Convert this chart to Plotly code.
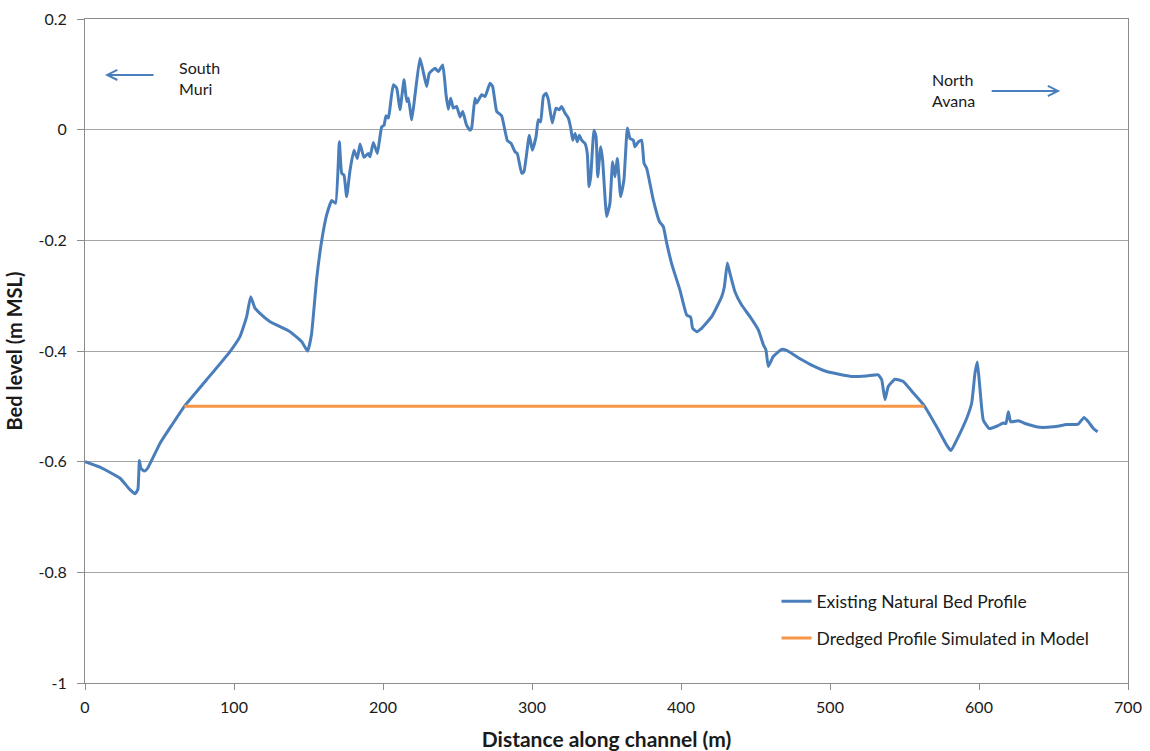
import plotly.graph_objects as go

# Surveyed bed profile along the channel (chainage in m, level in m MSL)
distance = [
    0, 10, 23.5, 30, 33.6, 35.5, 36.5, 37.5, 39.8, 42, 50.3, 58, 66.7, 81.6, 97.3,
    104, 108.5, 111.2, 114, 117.4, 124.2, 137.6, 145.4, 149.4, 152, 155.5, 158.9,
    162.2, 165.6, 168.2, 170.7, 172.3, 173.8, 175.6, 177.9, 180.5, 182.8, 184.6,
    187.2, 190.1, 191.3, 193.5, 196.2, 199.1, 200.7, 202, 203.6, 204.7, 206.9,
    209.2, 211.4, 214.1, 215.9, 217, 219.3, 221.5, 224.8, 227, 229.3, 231.1,
    234.9, 237.1, 240.1, 242.3, 243.8, 245.4, 247.2, 249.4, 251.7, 253.5, 256.1,
    258.4, 259.5, 261.7, 262.9, 266.2, 268.5, 271.8, 273.6, 276.3, 279.6, 283.5,
    286, 288.6, 290.1, 293.1, 294.6, 298.2, 300.2, 302.7, 304.2, 305.8, 307.6,
    309.4, 311, 313.6, 316.1, 318.3, 319.9, 322.1, 324.4, 326, 327.3, 328.9,
    330.4, 331.8, 333.3, 335.6, 337.1, 338.3, 339.4, 341.6, 343, 344.1, 346.1,
    347.4, 350.1, 352.3, 354.1, 355.7, 357.3, 359.5, 361.7, 364, 365.8, 368,
    369.1, 371.4, 373.6, 375.2, 377, 381.4, 385.5, 388.1, 390.4, 393.7, 399.3,
    403.8, 406.5, 407.8, 410.5, 413.8, 420.6, 427.3, 429.1, 431.1, 432.9, 436.2,
    440.7, 446.3, 451.9, 455.3, 457, 458.6, 461.9, 467.6, 470.9, 479.9, 486.6,
    497.8, 514.5, 524.6, 532.4, 534.7, 536.9, 539.1, 543.6, 549.2, 555.9, 563.3,
    571.6, 578.3, 581.2, 585, 591.7, 595.1, 597.3, 598.9, 600.7, 602.9, 606.9,
    611.9, 616.3, 618.1, 619.7, 621.3, 626.4, 632, 641, 649.9, 658.9, 666.6,
    670.5, 673.4, 676.8, 679.6,
]
bed_level = [
    -0.600, -0.610, -0.630, -0.650, -0.658, -0.650, -0.598, -0.612, -0.617, -0.612,
    -0.567, -0.535, -0.500, -0.452, -0.401, -0.374, -0.338, -0.302, -0.322, -0.332,
    -0.347, -0.365, -0.383, -0.400, -0.370, -0.269, -0.200, -0.154, -0.128, -0.133,
    -0.022, -0.079, -0.082, -0.121, -0.073, -0.037, -0.052, -0.026, -0.050, -0.043,
    -0.049, -0.023, -0.043, 0.005, 0.008, 0.025, 0.021, 0.039, 0.081, 0.075, 0.036,
    0.090, 0.051, 0.057, 0.018, 0.063, 0.129, 0.105, 0.078, 0.102, 0.111, 0.105,
    0.117, 0.063, 0.037, 0.057, 0.039, 0.042, 0.023, 0.033, 0.008, -0.001, 0.003,
    0.057, 0.048, 0.063, 0.060, 0.084, 0.078, 0.033, 0.025, -0.020, -0.025, -0.040,
    -0.043, -0.079, -0.076, -0.010, -0.037, -0.013, 0.018, 0.014, 0.060, 0.066,
    0.054, 0.012, 0.039, 0.036, 0.042, 0.030, 0.021, 0.003, -0.019, -0.007, -0.022,
    -0.010, -0.019, -0.025, -0.043, -0.103, -0.085, -0.001, -0.013, -0.085, -0.031,
    -0.055, -0.157, -0.133, -0.058, -0.085, -0.052, -0.121, -0.091, 0.003, -0.016,
    -0.019, -0.031, -0.022, -0.019, -0.061, -0.070, -0.127, -0.166, -0.175, -0.205,
    -0.242, -0.290, -0.335, -0.339, -0.359, -0.365, -0.359, -0.338, -0.302, -0.284,
    -0.241, -0.260, -0.293, -0.317, -0.338, -0.362, -0.389, -0.398, -0.428, -0.410,
    -0.397, -0.399, -0.414, -0.424, -0.437, -0.446, -0.445, -0.443, -0.452, -0.488,
    -0.464, -0.451, -0.455, -0.476, -0.499, -0.537, -0.570, -0.580, -0.561, -0.522,
    -0.494, -0.440, -0.420, -0.470, -0.525, -0.540, -0.536, -0.530, -0.531, -0.510,
    -0.528, -0.526, -0.532, -0.538, -0.537, -0.533, -0.532, -0.520, -0.528, -0.540,
    -0.546,
]

# Dredged design level used in the model
dredged_distance = [66.7, 563.3]
dredged_level = [-0.5, -0.5]

x_ticks = [0, 100, 200, 300, 400, 500, 600, 700]
y_ticks = [0.2, 0, -0.2, -0.4, -0.6, -0.8, -1]
y_tick_text = ["0.2", "0", "-0.2", "-0.4", "-0.6", "-0.8", "-1"]

BLUE = "#4A7EBB"
ORANGE = "#F79646"
TEXT = "#1a1a1a"
FONT = "Lato, 'Open Sans', sans-serif"

fig = go.Figure()
fig.add_trace(go.Scatter(
    x=distance, y=bed_level, mode="lines",
    name="Existing Natural Bed Profile", legendgroup="bed",
    line=dict(color=BLUE, width=3, shape="spline", smoothing=0.4),
))
fig.add_trace(go.Scatter(
    x=dredged_distance, y=dredged_level, mode="lines",
    name="Dredged Profile Simulated in Model", legendgroup="dredged",
    line=dict(color=ORANGE, width=3),
))

# Direction markers
fig.add_annotation(x=13.4, y=0.099, ax=47, ay=0.099, xref="x", yref="y",
                   axref="x", ayref="y", text="", showarrow=True,
                   arrowhead=5, arrowsize=1, arrowwidth=2, arrowcolor=BLUE)
fig.add_annotation(x=62, y=0.094, xref="x", yref="y", text="South<br>Muri",
                   showarrow=False, xanchor="left", align="left",
                   font=dict(size=16, color=TEXT, family=FONT))
fig.add_annotation(x=654.5, y=0.07, ax=607.5, ay=0.07, xref="x", yref="y",
                   axref="x", ayref="y", text="", showarrow=True,
                   arrowhead=5, arrowsize=1, arrowwidth=2, arrowcolor=BLUE)
fig.add_annotation(x=567, y=0.072, xref="x", yref="y", text="North<br>Avana",
                   showarrow=False, xanchor="left", align="left",
                   font=dict(size=16, color=TEXT, family=FONT))

fig.update_layout(
    width=1150, height=751,
    margin=dict(l=85, r=22, t=19, b=68, autoexpand=False),
    paper_bgcolor="white", plot_bgcolor="white",
    font=dict(family=FONT, size=16, color=TEXT),
    showlegend=True,
    legend=dict(x=0.663, y=0.15, xanchor="left", yanchor="top",
                bgcolor="rgba(0,0,0,0)", font=dict(size=17.5, color=TEXT),
                traceorder="grouped", tracegroupgap=11, itemwidth=30),
    xaxis=dict(
        range=[0, 700], tickvals=x_ticks, showgrid=False,
        showline=True, linecolor="#8c8c8c", linewidth=1, mirror=True,
        ticks="outside", ticklen=6, tickcolor="#8c8c8c",
        tickfont=dict(size=16), ticklabelstandoff=4,
        title=dict(text="<b>Distance along channel (m)</b>", font=dict(size=21), standoff=18),
        zeroline=False, automargin=False,
    ),
    yaxis=dict(
        range=[-1, 0.2], tickvals=y_ticks, ticktext=y_tick_text,
        showgrid=True, gridcolor="#a6a6a6", gridwidth=1,
        showline=True, linecolor="#8c8c8c", linewidth=1, mirror=True,
        ticks="outside", ticklen=7, tickcolor="#8c8c8c",
        tickfont=dict(size=16), ticklabelstandoff=7,
        title=dict(text="<b>Bed level (m MSL)</b>", font=dict(size=20), standoff=10),
        zeroline=False, automargin=False,
    ),
)

fig.write_html("out.html")
